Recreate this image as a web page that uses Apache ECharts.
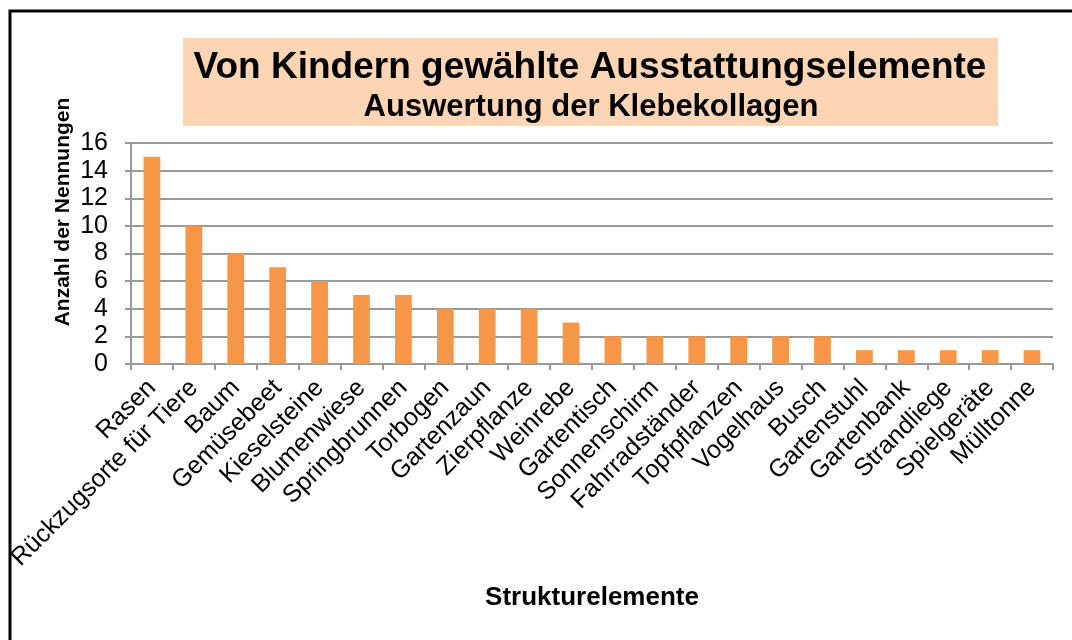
<!DOCTYPE html>
<html>
<head>
<meta charset="utf-8">
<script src="https://cdn.jsdelivr.net/npm/echarts@6/dist/echarts.min.js"></script>
<style>
  html, body { margin: 0; padding: 0; background: #fff; }
  #chart { width: 1072px; height: 640px; }
</style>
</head>
<body>
<div id="chart"></div>
<script>
// Strukturelemente und Anzahl der Nennungen
var categories = ['Rasen', 'Rückzugsorte für Tiere', 'Baum', 'Gemüsebeet', 'Kieselsteine', 'Blumenwiese',
  'Springbrunnen', 'Torbogen', 'Gartenzaun', 'Zierpflanze', 'Weinrebe', 'Gartentisch', 'Sonnenschirm',
  'Fahrradständer', 'Topfpflanzen', 'Vogelhaus', 'Busch', 'Gartenstuhl', 'Gartenbank', 'Strandliege',
  'Spielgeräte', 'Mülltonne'];
var nennungen = [15, 10, 8, 7, 6, 5, 5, 4, 4, 4, 3, 2, 2, 2, 2, 2, 2, 1, 1, 1, 1, 1];
var yMin = 0, yMax = 16, yStep = 2;

var font = '"Liberation Sans", Arial, sans-serif';
var myChart = echarts.init(document.getElementById('chart'));
var option = {
  animation: false,
  textStyle: { fontFamily: font },
  grid: { left: 131, right: 19, top: 143, bottom: 276 },
  graphic: [
    // Rahmen (nur oben/links sichtbar)
    { type: 'rect', shape: { x: 10, y: 11, width: 1100, height: 700 },
      style: { fill: 'none', stroke: '#000', lineWidth: 3 }, silent: true },
    // Titelkasten
    { type: 'rect', shape: { x: 183, y: 38, width: 815, height: 88 },
      style: { fill: '#FCD5B5' }, silent: true },
    { type: 'text', x: 590, y: 68,
      style: { text: 'Von Kindern gewählte Ausstattungselemente', font: 'bold 37px ' + font,
        fill: '#000', align: 'center', verticalAlign: 'middle' } },
    { type: 'text', x: 591, y: 107,
      style: { text: 'Auswertung der Klebekollagen', font: 'bold 31px ' + font,
        fill: '#000', align: 'center', verticalAlign: 'middle' } },
    // Achsentitel
    { type: 'text', x: 63, y: 212, rotation: Math.PI / 2,
      style: { text: 'Anzahl der Nennungen', font: 'bold 21px ' + font,
        fill: '#000', align: 'center', verticalAlign: 'middle' } },
    { type: 'text', x: 592, y: 598,
      style: { text: 'Strukturelemente', font: 'bold 26px ' + font,
        fill: '#000', align: 'center', verticalAlign: 'middle' } }
  ],
  xAxis: {
    type: 'category',
    data: categories,
    axisLine: { lineStyle: { color: '#999', width: 2 } },
    axisTick: { show: true, length: 6, lineStyle: { color: '#999', width: 2 } },
    axisLabel: { rotate: 45, interval: 0, fontSize: 25, color: '#000', margin: 20, fontFamily: font }
  },
  yAxis: {
    type: 'value',
    min: yMin, max: yMax, interval: yStep,
    axisLine: { show: true, lineStyle: { color: '#999', width: 2 } },
    axisTick: { show: true, length: 6, lineStyle: { color: '#999', width: 2 } },
    axisLabel: { fontSize: 25, color: '#000', margin: 23, fontFamily: font },
    splitLine: { lineStyle: { color: '#999', width: 2 } }
  },
  series: [{
    type: 'bar',
    data: nennungen,
    barWidth: '40%',
    itemStyle: { color: '#F79646' }
  }]
};
myChart.setOption(option);
</script>
</body>
</html>
